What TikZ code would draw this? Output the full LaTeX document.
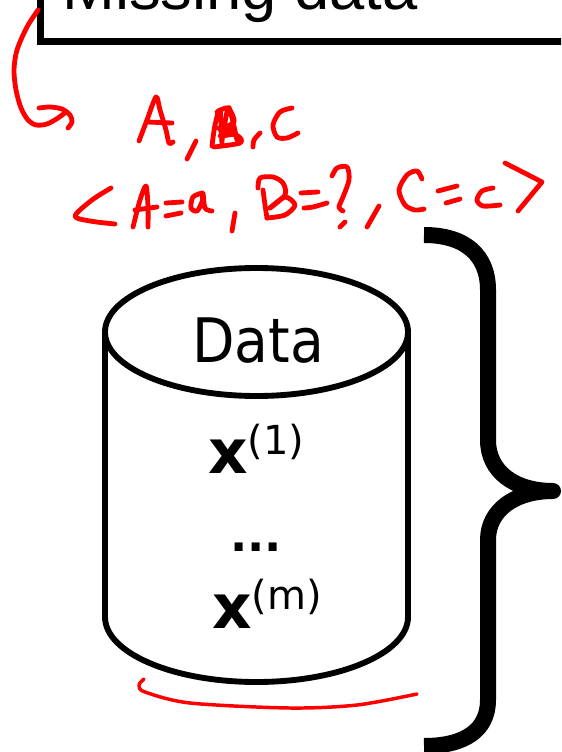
\documentclass[tikz,border=0pt]{standalone}
\usepackage{fontspec}
\setmainfont{Liberation Sans}
\newfontfamily\datafont{DejaVu Sans}
\usepackage{xcolor}
\definecolor{inkred}{RGB}{255,0,0}
\newcommand{\supsize}{\fontsize{30}{32}\selectfont}
\begin{document}
\begin{tikzpicture}[x=0.75pt,y=-0.75pt,
  titlebox/.style={draw=black,line width=4.6pt,anchor=south west,outer sep=0pt,minimum width=700pt,minimum height=80pt,inner sep=0pt},
  titletext/.style={anchor=base west,inner sep=0pt,font=\fontsize{47.5}{50}\selectfont},
  datatext/.style={inner sep=0pt,anchor=base,font=\datafont\fontsize{46}{48}\selectfont},
  dotstext/.style={inner sep=0pt,anchor=base,font=\datafont\fontsize{34}{36}\selectfont},
  rowtext/.style={inner sep=0pt,anchor=base west,font=\datafont\fontsize{46}{48}\selectfont},
  dbline/.style={draw=black,line width=4.4pt},
  ink/.style={draw=inkred,line width=3.6pt,line cap=round,line join=round},
  thinink/.style={draw=inkred,line width=2.6pt,line cap=round,line join=round}]
\useasboundingbox (0,0) rectangle (561,752);
\clip (0,0) rectangle (561,752);
% heading box, cut off by the page
\node[titlebox] (missing) at (40.5,41.5) {};
\node[titletext] (missingtext) at (62,10) {Missing data};
% data cylinder
\draw[dbline] (105,332) -- (105,617) arc[start angle=180,end angle=360,x radius=151.5,y radius=-65] -- (408,332);
\draw[dbline] (256.5,332) ellipse[x radius=151.5,y radius=64];
\node[datatext] (data) at (258,362) {\scalebox{0.9}[1]{Data}};
\node[rowtext] (first) at (208,473) {\textbf{x}\raisebox{14pt}{\supsize (1)}};
\node[dotstext] (dots) at (256,551) {\textbf{...}};
\node[rowtext] (last) at (212,628) {\textbf{x}\raisebox{14pt}{\supsize (m)}};
% big brace
\draw[black,line width=12pt,line join=round] (424,235) .. controls (465,235) and (488,255) .. (488,290)
  -- (488,440) .. controls (488,472) and (515,491) .. (553,491)
  .. controls (515,491) and (488,510) .. (488,540)
  -- (488,700) .. controls (488,730) and (465,746) .. (424,746);
% red arrow from the box
\draw[ink] plot[smooth] coordinates {(38,10) (27,27) (17,50) (14,70) (16,90) (21,108) (28,120) (36,125) (47,124) (58,118) (66,112)};
\draw[ink] plot[smooth] coordinates {(39,108) (50,107) (62,109) (70,115) (72,122) (68,128)};
% A , B , C
\draw[ink] plot[smooth] coordinates {(139,141) (147,120) (156,97) (160,110) (166,130) (169,143) (173,142)};
\draw[ink] (147,122) -- (172,123);
\draw[ink] (196,141) -- (187,159);
\draw[ink] plot[smooth] coordinates {(212,146) (215,125) (220,110) (222,145)};
\draw[ink] plot[smooth] coordinates {(217,112) (228,108) (234,122) (220,130) (238,136) (240,143) (214,147)};
\draw[ink] plot[smooth] coordinates {(222,140) (228,108) (232,118) (237,140)};
\draw[ink] plot[smooth] coordinates {(218,128) (232,130) (220,136) (234,134)};
\draw[ink] plot[smooth] coordinates {(260,133) (254,140) (253,147)};
\draw[ink] plot[smooth] coordinates {(292,108) (280,112) (273,125) (277,137) (287,138) (298,133)};
% second line
\draw[ink] plot[smooth] coordinates {(111,188) (92,200) (75,216) (90,221) (115,224)};
\draw[ink] plot[smooth] coordinates {(133,227) (140,200) (146,186) (148,207) (148,227)};
\draw[ink] (135,210) -- (157,207);
\draw[ink] (166,203) -- (182,202);
\draw[ink] (166,216) -- (181,213);
\draw[ink] plot[smooth] coordinates {(202,193) (193,197) (191,208) (197,211) (202,202) (203,193) (205,208) (212,211)};
\draw[ink] (235,213) -- (232,231);
\draw[ink] plot[smooth] coordinates {(258,188) (260,178) (273,177) (283,183) (285,195) (270,208)};
\draw[ink] plot[smooth] coordinates {(263,190) (265,205) (267,218)};
\draw[ink] plot[smooth] coordinates {(270,208) (285,197) (295,205) (285,215) (267,218)};
\draw[ink] (301,193) -- (318,192);
\draw[ink] plot[smooth] coordinates {(304,208) (313,207) (327,203)};
\draw[ink] plot[smooth] coordinates {(332,176) (337,168) (347,167) (349,180) (343,197) (339,207) (343,211)};
\draw[ink] (345,222) -- (340,227);
\draw[ink] (379,206) -- (367,227);
\draw[ink] plot[smooth] coordinates {(422,179) (417,171) (407,175) (399,190) (405,205) (415,210) (424,209)};
\draw[ink] (438,191) -- (457,186);
\draw[ink] (446,203) -- (460,199);
\draw[ink] plot[smooth] coordinates {(493,188) (482,191) (477,200) (483,206) (500,205)};
\draw[ink] (505,163) -- (542,182) -- (518,211);
% underline below the cylinder
\draw[thinink] plot[smooth] coordinates {(144,679) (139,685) (145,692) (190,703) (290,708) (357,705) (417,694)};
\end{tikzpicture}
\end{document}
